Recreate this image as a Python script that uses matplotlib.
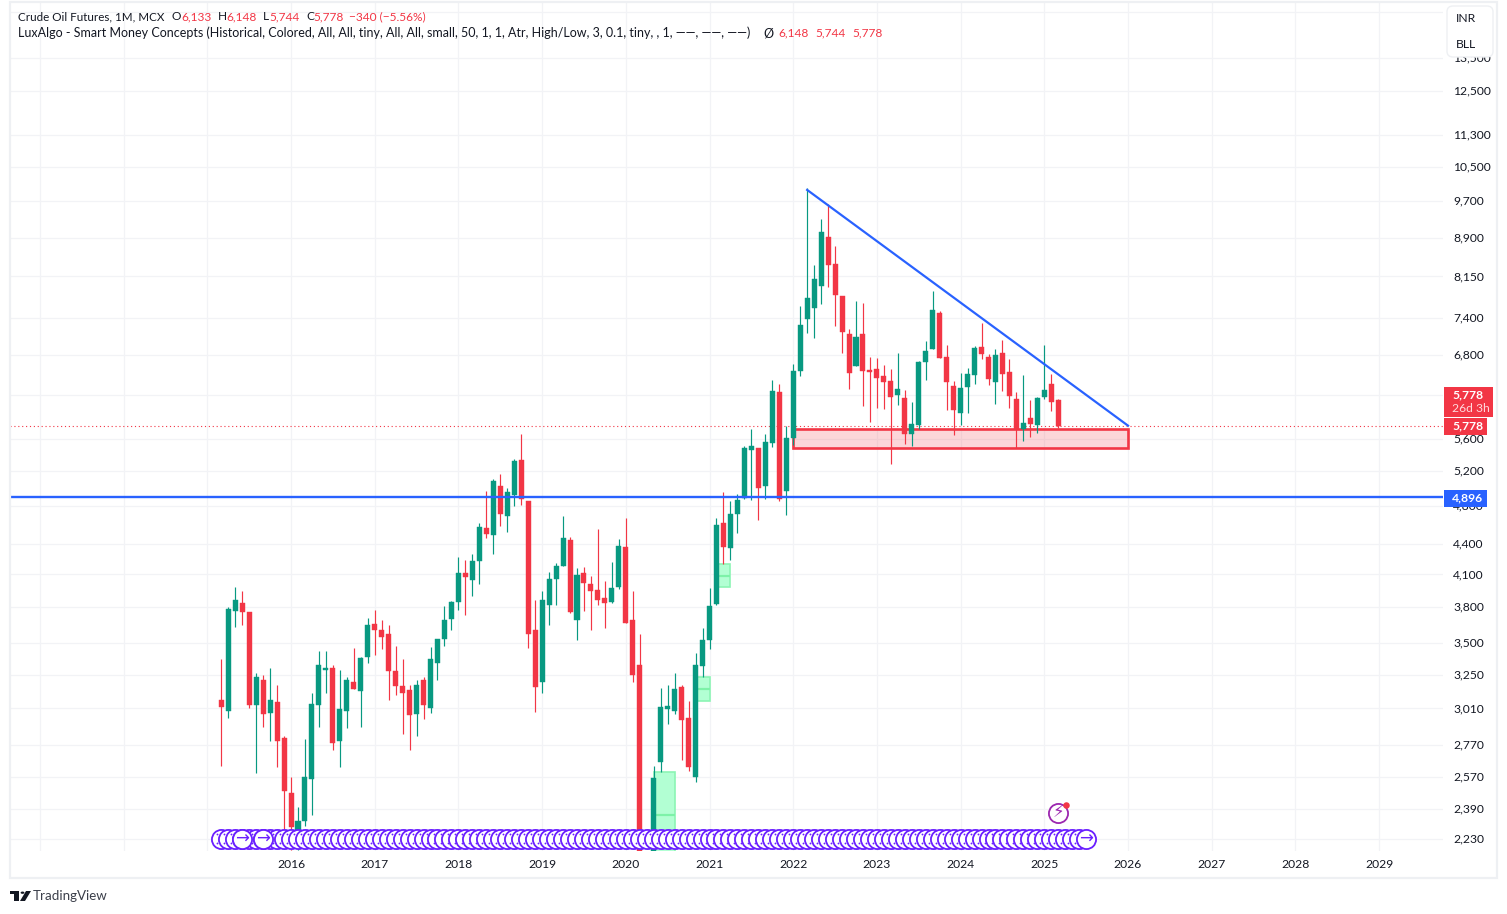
import numpy as np
import pandas as pd
from matplotlib import pyplot as plt
from matplotlib.patches import FancyBboxPatch, Polygon, Rectangle

plt.rcParams["font.family"] = ["Lato", "DejaVu Sans"]

WIDTH, HEIGHT = 1507, 914

GREEN = "#089981"
RED = "#f23645"
BLUE = "#2962ff"
PURPLE = "#6a1fff"
TEXT = "#131722"
GRID = "#f2f3f6"
FONT_SIZE = 9.0
TICK_SIZE = 8.7

# monthly candles (2015-03 to 2025-03)
months = pd.date_range("2015-03-01", "2025-03-01", freq="MS")

open_prices = [
    3066, 2996, 3772, 3842, 3763, 3031, 3218, 2982, 3052, 2810,
    2475, 2270, 2320, 2556, 3031, 3293, 3301, 2790, 2996, 3203,
    3131, 3386, 3661, 3611, 3578, 3278, 3167, 3138, 2969, 3218,
    3010, 3346, 3529, 3704, 3851, 4118, 4052, 4233, 4567, 4494,
    5031, 4695, 4928, 5342, 4861, 3603, 3203, 3825, 4061, 4185,
    4443, 3687, 4118, 4015, 3960, 3887, 3851, 3987, 4372, 3687,
    3324, 2100, 1900, 2658, 3003, 2996, 3160, 2948, 2568, 3316,
    3521, 3833, 4620, 4362, 4717, 4895, 5467, 5492, 5031, 5555,
    6249, 4974, 5620, 6558, 7397, 7582, 7975, 8928, 8390, 7795,
    7141, 6634, 7141, 6573, 6588, 6483, 6408, 6205, 6163, 5672,
    5791, 6695, 6899, 7495, 6773, 6335, 5952, 6320, 6497, 6930,
    6773, 6393, 6836, 6543, 6148, 5737, 5885, 5791, 6177, 6364,
    6133,
]
close_prices = [
    3017, 3790, 3869, 3763, 3031, 3233, 2969, 3066, 2790, 2486,
    2290, 2320, 2573, 3038, 3331, 3301, 2777, 3003, 3211, 3145,
    3378, 3653, 3603, 3553, 3278, 3167, 3116, 2962, 3181, 3031,
    3370, 3529, 3687, 3851, 4109, 4080, 4233, 4576, 4504, 5089,
    4717, 4962, 5330, 4883, 3570, 3160, 3869, 4061, 4185, 4463,
    3763, 4098, 4023, 3942, 3869, 3842, 3978, 4382, 3670, 3255,
    2100, 1800, 2562, 3017, 3024, 3145, 2928, 2633, 3324, 3521,
    3816, 4599, 4372, 4717, 4872, 5492, 5518, 5008, 5568, 6263,
    4883, 5620, 6558, 7290, 7759, 8106, 9032, 8371, 7813, 7174,
    6527, 7092, 6558, 6543, 6453, 6393, 6177, 6291, 5672, 5804,
    6695, 6867, 7547, 6757, 6393, 5994, 6306, 6512, 6915, 6820,
    6438, 6804, 6512, 6191, 5737, 5818, 5804, 6163, 6277, 6106,
    5778,
]
high_prices = [
    3370, 3805, 3985, 3951, 3763, 3263, 3255, 3301, 3174, 2823,
    2568, 2396, 2803, 3116, 3440, 3440, 3324, 3293, 3233, 3464,
    3386, 3712, 3781, 3695, 3645, 3480, 3370, 3174, 3211, 3233,
    3472, 3537, 3816, 3860, 4272, 4243, 4302, 4620, 4974, 5113,
    5172, 5008, 5355, 5672, 4861, 3869, 3942, 4127, 4214, 4695,
    4473, 4166, 4175, 4089, 4556, 4043, 4224, 4453, 4674, 3951,
    3578, 2120, 2639, 3152, 3181, 3263, 3174, 3059, 3417, 3620,
    3978, 4674, 4962, 4861, 4939, 5518, 5737, 5492, 5672, 6423,
    6364, 5777, 6665, 7617, 9990, 8371, 9306, 9634, 8746, 7795,
    7224, 7705, 7670, 6773, 6757, 6649, 6588, 6836, 6277, 6106,
    6710, 7027, 7885, 7530, 6962, 6408, 6527, 6603, 6946, 7324,
    6820, 6899, 7043, 6742, 6249, 6497, 6134, 6177, 6962, 6512,
    6148,
]
low_prices = [
    2639, 2948, 3628, 3653, 3010, 2591, 2881, 2790, 2633, 2280,
    2170, 2170, 2294, 2352, 2881, 3116, 2733, 2633, 2875, 3145,
    2881, 3346, 3402, 3456, 3073, 3102, 2841, 2733, 2823, 2935,
    2982, 3218, 3480, 3603, 3781, 3738, 3905, 4015, 4463, 4302,
    4588, 4525, 4805, 4816, 3464, 2989, 3116, 3653, 3825, 4185,
    3755, 3521, 3772, 3603, 3825, 3620, 3842, 3969, 3670, 3203,
    2000, 1500, 1800, 2597, 2902, 2975, 2670, 2603, 2538, 3240,
    3456, 3825, 4204, 4243, 4515, 4883, 4872, 4652, 4883, 5505,
    4861, 4706, 5530, 6483, 7157, 7076, 7652, 7957, 7274, 6836,
    6291, 6634, 6050, 5831, 6022, 6008, 5293, 6064, 5543, 5518,
    5737, 6423, 6899, 6757, 5994, 5659, 5791, 5952, 6364, 6742,
    6350, 6078, 6263, 6022, 5492, 5581, 5633, 5685, 6148, 5980,
    5744,
]

price_ticks = [15000, 13500, 12500, 11300, 10500, 9700, 8900, 8150, 7400, 6800, 6200,
               5600, 5200, 4800, 4400, 4100, 3800, 3500, 3250, 3010, 2770, 2570, 2390, 2230]
# these labels sit under the tags and the currency box
hidden_ticks = [15000, 6200]
year_ticks = list(range(2013, 2030))
labelled_from = 2016

last_close = 5778
level_line = 4896
trend_start = (84, 9950)
trend_end = (130, 5778)
supply_box = (82, 130, 5492, 5730)
# (first month, last month, low, high, middle)
green_boxes = [(62, 65, 2113, 2597, 2355), (68, 70, 3061, 3240, 3150), (71, 73, 3980, 4201, 4090)]
marker_months = np.arange(0, 125)
arrow_months = [3, 6, 124]
flash_point = (120, 2368)


def px_box(left, top, right, bottom):
    """Convert pixel edges to figure fractions as x, y, w, h"""
    return left / WIDTH, 1 - bottom / HEIGHT, (right - left) / WIDTH, (bottom - top) / HEIGHT


def put_text(fig, x, y, text, color=TEXT, size=FONT_SIZE, weight="normal", ha="left"):
    """Write a text at a pixel position of the picture"""
    fig.text(x / WIDTH, 1 - y / HEIGHT, text, color=color, fontsize=size, fontweight=weight, ha=ha, va="center")


def add_rect(fig, left, top, right, bottom, **kwargs):
    x, y, w, h = px_box(left, top, right, bottom)
    fig.add_artist(Rectangle((x, y), w, h, transform=fig.transFigure, **kwargs))


def draw_candles(ax):
    """Wicks first, bodies on top"""
    x = np.arange(len(months))
    colors = [GREEN if c >= o else RED for o, c in zip(open_prices, close_prices)]
    ax.vlines(x, low_prices, high_prices, colors=colors, linewidth=0.85, zorder=4)
    bottoms = np.minimum(open_prices, close_prices)
    heights = np.abs(np.array(close_prices) - np.array(open_prices))
    ax.bar(x, heights, bottom=bottoms, width=0.72, color=colors, edgecolor=colors, linewidth=0.3, zorder=4)


def draw_drawings(ax):
    """Boxes and lines of the indicator and the user"""
    for first, last, low, high, middle in green_boxes:
        ax.add_patch(Rectangle((first, low), last - first, high - low, facecolor="#b2ffd3",
                               edgecolor="#8cf5b4", linewidth=1.2, zorder=2))
        ax.hlines(middle, first, last, color="#7df2a8", linewidth=1.6, zorder=2)

    left, right, low, high = supply_box
    ax.add_patch(Rectangle((left, low), right - left, high - low, facecolor=RED, alpha=0.2, linewidth=0, zorder=2))
    ax.add_patch(Rectangle((left, low), right - left, high - low, fill=False, edgecolor=RED, linewidth=1.9, zorder=3))

    ax.axhline(last_close, color=RED, linewidth=0.8, linestyle=(0, (1, 2.5)), zorder=3)
    ax.axhline(level_line, color=BLUE, linewidth=1.7, zorder=5)
    ax.plot([trend_start[0], trend_end[0]], [trend_start[1], trend_end[1]], color=BLUE, linewidth=1.6, zorder=5)


def draw_marker_strip(ax):
    """Row of overlapping purple circles along the bottom"""
    trans = ax.get_xaxis_transform()
    y_pos = 0.0147
    plain = marker_months[marker_months != 124]
    ax.scatter(plain, np.full(len(plain), y_pos), s=190, facecolor="white", edgecolor=PURPLE,
               linewidth=1.3, transform=trans, zorder=6, clip_on=False)
    for offset in (-0.0052, 0.0052):
        ax.scatter(plain - 0.55, np.full(len(plain), y_pos + offset), s=1.8, color=PURPLE, linewidth=0,
                   transform=trans, zorder=7, clip_on=False)
    ax.scatter(arrow_months, np.full(len(arrow_months), y_pos), s=190, facecolor="white", edgecolor=PURPLE,
               linewidth=1.3, transform=trans, zorder=8, clip_on=False)
    for month in arrow_months:
        ax.text(month, y_pos, "→", color=PURPLE, fontsize=12, ha="center", va="center",
                family="DejaVu Sans", transform=trans, zorder=9)

    ax.scatter(*flash_point, s=190, facecolor="white", edgecolor="#9c27b0", linewidth=1.3, zorder=8)
    ax.text(*flash_point, "⚡", color="#9c27b0", fontsize=12, ha="center", va="center", family="DejaVu Sans", zorder=9)
    ax.scatter(flash_point[0] + 1.05, flash_point[1] * 1.018, s=22, color=RED, linewidth=0, zorder=10)


def draw_header(fig):
    put_text(fig, 18, 17, "Crude Oil Futures, 1M, MCX", size=8.4)
    for x, letter in [(172, "O"), (218, "H"), (263, "L"), (306, "C")]:
        put_text(fig, x, 17, letter, size=8.6)
    for x, value in [(181, "6,133"), (226, "6,148"), (269, "5,744"), (313, "5,778"), (349, "−340 (−5.56%)")]:
        put_text(fig, x, 17, value, color=RED, size=8.6)
    put_text(fig, 18, 33, "LuxAlgo - Smart Money Concepts (Historical, Colored, All, All, tiny, All, All, small, "
                          "50, 1, 1, Atr, High/Low, 3, 0.1, tiny, , 1, ——, ——, ——)")
    put_text(fig, 763, 33, "Ø")
    for x, value in [(778, "6,148"), (815, "5,744"), (852, "5,778")]:
        put_text(fig, x, 33, value, color=RED, size=8.6)


def draw_price_tags(fig):
    add_rect(fig, 1444, 387, 1493, 417, facecolor=RED, linewidth=0, zorder=2)
    add_rect(fig, 1444, 418, 1487, 435, facecolor=RED, linewidth=0, zorder=2)
    add_rect(fig, 1444, 490, 1487, 507, facecolor=BLUE, linewidth=0, zorder=2)
    put_text(fig, 1452, 395, "5,778", color="white", weight="bold", size=TICK_SIZE)
    put_text(fig, 1452, 409, "26d 3h", color="#ffd9dc", size=TICK_SIZE)
    put_text(fig, 1452, 426, "5,778", color="white", weight="bold", size=TICK_SIZE)
    put_text(fig, 1452, 498, "4,896", color="white", weight="bold", size=TICK_SIZE)

    x, y, w, h = px_box(1447, 6, 1493, 57)
    fig.add_artist(FancyBboxPatch((x, y), w, h, boxstyle="round,pad=0,rounding_size=0.004", mutation_aspect=1.6,
                                  transform=fig.transFigure, facecolor="white", edgecolor="#eef0f3",
                                  linewidth=1.0, zorder=2))
    put_text(fig, 1456, 19, "INR", size=TICK_SIZE)
    put_text(fig, 1456, 45, "BLL", size=TICK_SIZE)


def draw_logo(fig):
    add_rect(fig, 10, 891, 19, 894, facecolor=TEXT, linewidth=0)
    add_rect(fig, 14, 894, 19, 901, facecolor=TEXT, linewidth=0)
    fig.add_artist(plt.Circle((22.5 / WIDTH, 1 - 892.7 / HEIGHT), 1.9 / WIDTH, transform=fig.transFigure,
                              facecolor=TEXT, linewidth=0))
    corners = [(26, 891), (31, 891), (25, 901), (20, 901)]
    fig.add_artist(Polygon([(x / WIDTH, 1 - y / HEIGHT) for x, y in corners], transform=fig.transFigure,
                           facecolor=TEXT, linewidth=0))
    put_text(fig, 33, 896, "TradingView", color="#3b3f4a", size=9.6)


def main():
    fig = plt.figure(figsize=(WIDTH / 100, HEIGHT / 100), dpi=100)
    ax = fig.add_axes(px_box(10, 3, 1443, 851))

    ax.set_yscale("log")
    ax.set_ylim(2167, 15311)
    ax.set_xlim(-30.29, 175.16)
    for spine in ax.spines.values():
        spine.set_visible(False)

    ax.yaxis.tick_right()
    ax.set_yticks(price_ticks, ["" if tick in hidden_ticks else f"{tick:,}" for tick in price_ticks])
    ax.minorticks_off()
    ax.tick_params(axis="y", length=0, pad=7.2, labelsize=TICK_SIZE, labelcolor=TEXT)
    for label in ax.get_yticklabels():
        label.set_verticalalignment("center")

    year_x = [(year - 2015) * 12 - 2 for year in year_ticks]
    ax.set_xticks(year_x, [str(year) if year >= labelled_from else "" for year in year_ticks])
    ax.tick_params(axis="x", length=0, pad=5.5, labelsize=TICK_SIZE, labelcolor=TEXT)

    ax.set_axisbelow(True)
    ax.grid(axis="both", color=GRID, linewidth=0.9)

    draw_drawings(ax)
    draw_candles(ax)
    draw_marker_strip(ax)

    # frame around the whole chart
    add_rect(fig, 10, 2, 1497, 878, fill=False, edgecolor="#eef0f3", linewidth=1.6)
    draw_header(fig)
    draw_price_tags(fig)
    draw_logo(fig)

    fig.savefig("out.png", dpi=100)
    plt.close()


main()
